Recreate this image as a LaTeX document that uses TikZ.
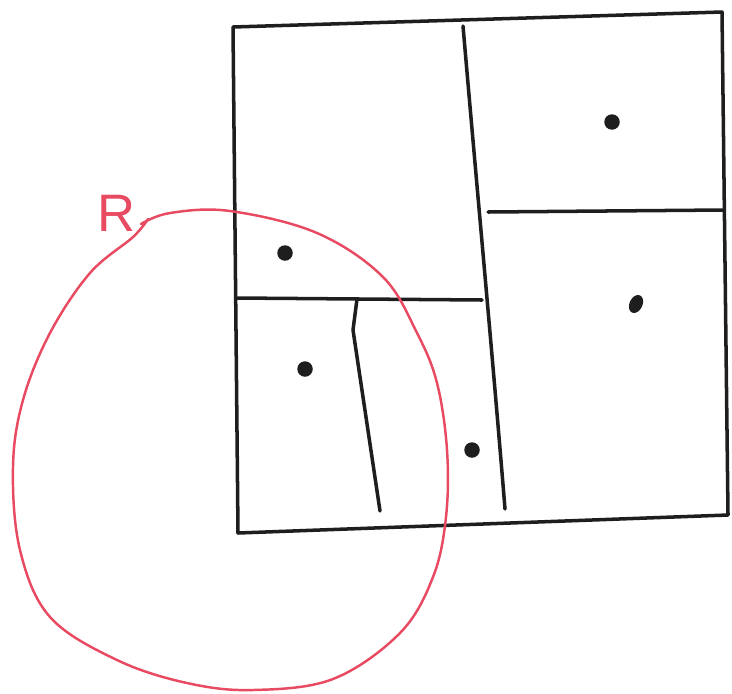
\documentclass[tikz,border=0pt]{standalone}
\usepackage{fontspec}
\setsansfont{Liberation Sans}
\usetikzlibrary{positioning, shapes.geometric}
\definecolor{sketchred}{RGB}{232,74,98}
\definecolor{pen}{RGB}{30,30,30}

\begin{document}
\begin{tikzpicture}[
    x=0.02cm, y=-0.02cm,
    wall/.style={draw=pen, line width=2pt, line cap=round, line join=round},
    site/.style={circle, fill=pen, inner sep=0pt, minimum size=0.31cm},
    region/.style={draw=sketchred, line width=1.4pt, line cap=round}
]
    \useasboundingbox (0,0) rectangle (732,693);

    % outer box
    \coordinate (tl) at (233,27);
    \coordinate (tr) at (722,12);
    \coordinate (br) at (728,515);
    \coordinate (bl) at (238,533);
    \draw[wall] (tl) -- (tr) -- (br) -- (bl) -- cycle;

    % splits
    \coordinate (midtop) at (463,26);
    \coordinate (midbot) at (505,509);
    \draw[wall] (midtop) .. controls (478,200) and (492,350) .. (midbot);
    \draw[wall] (488,212) -- (724,210);
    \draw[wall] (236,298) -- (482,300);
    \draw[wall] (357,299) -- (353,330) -- (380,511);

    % points
    \node[site] (p1) at (612,122) {};
    \node[site] (p2) at (285,253) {};
    \node[site, ellipse, minimum width=0.26cm, minimum height=0.38cm, rotate=-25] (p3) at (636,304) {};
    \node[site] (p4) at (305,369) {};
    \node[site] (p5) at (472,450) {};

    % query region
    \draw[region] plot[smooth, tension=0.6] coordinates {
        (141,224) (170,213) (230,211) (317,233) (383,277) (417,333)
        (437,383) (447,450) (446,517) (433,577) (400,633) (333,679)
        (253,690) (187,683) (117,660) (50,617) (20,550) (13,467)
        (23,400) (50,333) (90,273) (133,237) (148,219)};
    \node[text=sketchred, font=\sffamily\fontsize{30}{30}\selectfont, inner sep=0pt] (rlabel) at (117,213) {R};
\end{tikzpicture}
\end{document}
